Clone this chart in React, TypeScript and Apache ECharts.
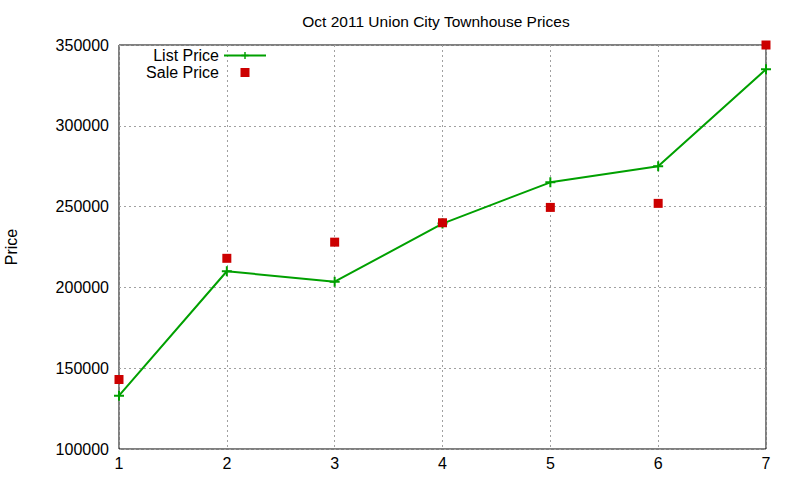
import { useEffect, useRef } from 'react';
import * as echarts from 'echarts';

const xValues = [1, 2, 3, 4, 5, 6, 7];
const listPrice = [133000, 210000, 203500, 239500, 265000, 275000, 335000];
const salePrice = [143000, 218000, 228000, 240000, 249500, 252000, 350000];

const PLUS = 'path://M4,0H6V4H10V6H6V10H4V6H0V4H4Z';
const SQUARE = 'path://M0,0H10V10H0Z';
const FONT = 'Liberation Sans, Arial, sans-serif';

const App = () => {
  const containerRef = useRef<HTMLDivElement>(null);

  useEffect(() => {
    if (!containerRef.current) return;
    const chart = echarts.init(containerRef.current, null, { renderer: 'svg' });

    const option: echarts.EChartsOption = {
      animation: false,
      backgroundColor: '#ffffff',
      textStyle: { fontFamily: FONT },
      title: {
        text: 'Oct 2011 Union City Townhouse Prices',
        left: 431,
        top: 8,
        textAlign: 'center',
        textStyle: { fontFamily: FONT, fontSize: 15.5, fontWeight: 'normal', color: '#000' },
      },
      legend: {
        orient: 'vertical',
        right: 533,
        top: 47,
        padding: 0,
        align: 'right',
        itemWidth: 42,
        itemHeight: 9,
        itemGap: 0,
        symbolKeepAspect: true,
        textStyle: { fontFamily: FONT, fontSize: 16, color: '#000', lineHeight: 17 },
        data: ['List Price', { name: 'Sale Price', icon: SQUARE }],
      },
      grid: {
        left: 119,
        right: 34,
        top: 45,
        bottom: 31,
        outerBoundsMode: 'none',
        show: true,
        borderColor: '#000',
        borderWidth: 1,
        backgroundColor: 'transparent',
      } as any,
      xAxis: {
        type: 'value',
        min: 1,
        max: 7,
        interval: 1,
        axisLine: { show: false },
        axisTick: { show: false },
        axisLabel: { color: '#000', fontSize: 16, fontFamily: FONT, margin: 6 },
        splitLine: { show: true, lineStyle: { color: '#a0a0a0', type: [2, 3], width: 1 } },
      },
      yAxis: {
        type: 'value',
        min: 100000,
        max: 350000,
        interval: 50000,
        name: 'Price',
        nameLocation: 'middle',
        nameGap: 100,
        nameTextStyle: { color: '#000', fontSize: 16, fontFamily: FONT },
        axisLine: { show: false },
        axisTick: { show: false },
        axisLabel: {
          color: '#000',
          fontSize: 16,
          fontFamily: FONT,
          margin: 10,
          formatter: (v: number) => String(v),
        },
        splitLine: { show: true, lineStyle: { color: '#a0a0a0', type: [2, 3], width: 1 } },
      },
      series: [
        {
          name: 'List Price',
          type: 'line',
          data: xValues.map((x, i) => [x, listPrice[i]]),
          symbol: PLUS,
          symbolSize: 10,
          showAllSymbol: true,
          lineStyle: { color: '#00a000', width: 2 },
          itemStyle: { color: '#00a000' },
          z: 3,
        },
        {
          name: 'Sale Price',
          type: 'scatter',
          data: xValues.map((x, i) => [x, salePrice[i]]),
          symbol: 'rect',
          symbolSize: 9,
          itemStyle: { color: '#cc0000', opacity: 1 },
          z: 4,
        },
      ],
    };

    chart.setOption(option);
    return () => {
      chart.dispose();
    };
  }, []);

  return (
    <div style={{ position: 'fixed', left: 0, top: 0, width: 800, height: 480 }}>
      <div ref={containerRef} style={{ width: '100%', height: '100%' }} />
    </div>
  );
};

export default App;
